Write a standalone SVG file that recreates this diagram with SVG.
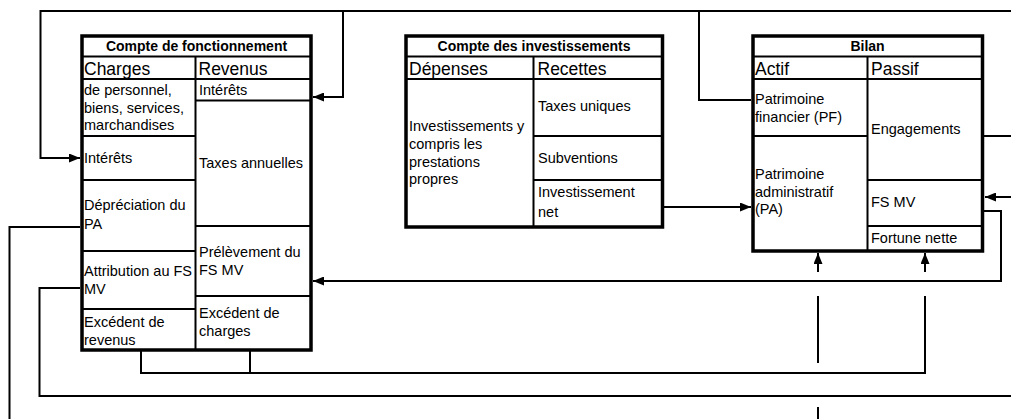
<svg xmlns="http://www.w3.org/2000/svg" width="1011" height="419" viewBox="0 0 1011 419">
<style>
.box{fill:#fff;stroke:#000;stroke-width:3.5}
.ln{stroke:#000;stroke-width:2;fill:none}
.c{stroke:#000;stroke-width:2;fill:none}
.arr{marker-end:url(#ah)}
text{font-family:"Liberation Sans",Arial,sans-serif;fill:#000}
.t{font-size:14px;font-weight:bold;text-anchor:middle}
.h{font-size:17.5px}
.x{font-size:14.5px}
</style>
<defs>
<marker id="ah" viewBox="0 0 11 9" refX="11" refY="4.5" markerWidth="11" markerHeight="9" markerUnits="userSpaceOnUse" orient="auto">
<path d="M0,0 L11,4.5 L0,9 z" fill="#000"/>
</marker>
</defs>
<rect width="1011" height="419" fill="#fff"/>

<g id="connectors">
<path class="c arr" d="M1011 11 H40.5 V158 H80"/>
<path class="c arr" d="M343 11 V97 H313"/>
<path class="c" d="M699 11 V100 H751"/>
<path class="c" d="M984 136 H1011"/>
<path class="c arr" d="M1011 197 H985"/>
<path class="c arr" d="M984 211 H1001 V281 H313"/>
<path class="c arr" d="M818 272 V253"/>
<path class="c arr" d="M925 272 V253"/>
<path class="c" d="M818 296 V363"/>
<path class="c" d="M141 351 V373 H925 V296"/>
<path class="c" d="M250 351 V374"/>
<path class="c" d="M80 227 H9.5 V419"/>
<path class="c" d="M80 288 H39.5 V396 H1011"/>
<path class="c arr" d="M663 207 H751"/>
<path class="c" d="M818 407 V419"/>
</g>

<g id="compte-fonctionnement">
<rect class="box" x="82" y="36" width="229" height="314"/>
<path class="ln" d="M82 56.5 H311 M82 79 H311 M195.5 56.5 V350 M195.5 100.5 H311 M82 136 H195.5 M82 180 H195.5 M195.5 226 H311 M82 251 H195.5 M195.5 296 H311 M82 309 H195.5"/>
<text class="t" x="196.5" y="51">Compte de fonctionnement</text>
<text class="h" x="84" y="75">Charges</text>
<text class="h" x="198.5" y="75">Revenus</text>
<text class="x" x="84" y="95">de personnel,</text>
<text class="x" x="84" y="112.5">biens, services,</text>
<text class="x" x="84" y="130">marchandises</text>
<text class="x" x="84" y="163">Intérêts</text>
<text class="x" x="84" y="210">Dépréciation du</text>
<text class="x" x="84" y="229">PA</text>
<text class="x" x="84" y="276">Attribution au FS</text>
<text class="x" x="84" y="294">MV</text>
<text class="x" x="84" y="327">Excédent de</text>
<text class="x" x="84" y="344.5">revenus</text>
<text class="x" x="199" y="95">Intérêts</text>
<text class="x" x="199" y="168">Taxes annuelles</text>
<text class="x" x="199" y="257">Prélèvement du</text>
<text class="x" x="199" y="275">FS MV</text>
<text class="x" x="199" y="318">Excédent de</text>
<text class="x" x="199" y="336">charges</text>
</g>

<g id="compte-investissements">
<rect class="box" x="406" y="36" width="256.5" height="191"/>
<path class="ln" d="M406 56.5 H662.5 M406 79 H662.5 M533.5 56.5 V227 M533.5 136 H662.5 M533.5 180 H662.5"/>
<text class="t" x="534" y="51">Compte des investissements</text>
<text class="h" x="409" y="75">Dépenses</text>
<text class="h" x="537.5" y="75">Recettes</text>
<text class="x" x="409" y="131">Investissements y</text>
<text class="x" x="409" y="149">compris les</text>
<text class="x" x="409" y="166.5">prestations</text>
<text class="x" x="409" y="184">propres</text>
<text class="x" x="538" y="111">Taxes uniques</text>
<text class="x" x="538" y="162.5">Subventions</text>
<text class="x" x="538" y="197">Investissement</text>
<text class="x" x="538" y="216.5">net</text>
</g>

<g id="bilan">
<rect class="box" x="753" y="36" width="229.5" height="215"/>
<path class="ln" d="M753 56.5 H982.5 M753 79 H982.5 M867.5 56.5 V251 M753 136 H867.5 M867.5 180 H982.5 M867.5 226 H982.5"/>
<text class="t" x="867.5" y="51">Bilan</text>
<text class="h" x="755" y="75">Actif</text>
<text class="h" x="871" y="75">Passif</text>
<text class="x" x="755" y="103.5">Patrimoine</text>
<text class="x" x="755" y="121.5">financier (PF)</text>
<text class="x" x="871" y="133.5">Engagements</text>
<text class="x" x="755" y="178.5">Patrimoine</text>
<text class="x" x="755" y="196.5">administratif</text>
<text class="x" x="755" y="214">(PA)</text>
<text class="x" x="871" y="207">FS MV</text>
<text class="x" x="871" y="242.5">Fortune nette</text>
</g>
</svg>
